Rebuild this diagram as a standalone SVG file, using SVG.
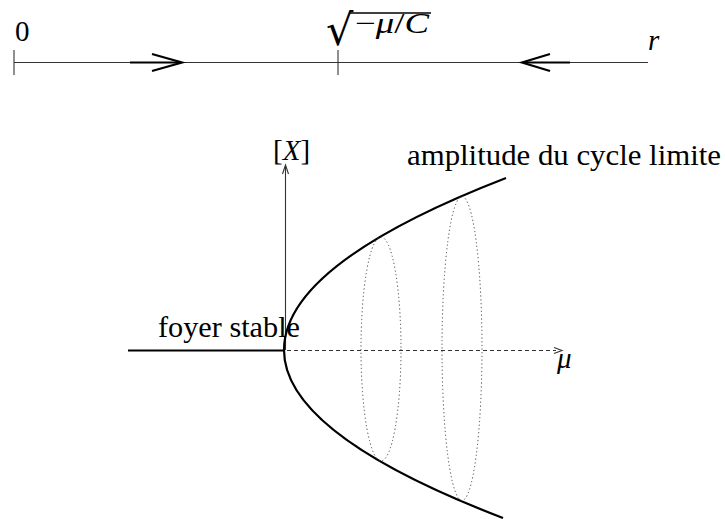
<svg xmlns="http://www.w3.org/2000/svg" width="725" height="519" viewBox="0 0 725 519" font-family="'Liberation Serif', 'Times New Roman', serif">
<style>
text{font-family:'Liberation Serif','Times New Roman',serif;font-size:29px;fill:#000}
.it{font-style:italic}
.rad{font-family:'DejaVu Serif',serif;font-size:43px}
.thin{stroke:#333;stroke-width:1.1;fill:none}
.bold{stroke:#000;stroke-width:2.2;fill:none}
.dash{stroke:#333;stroke-width:1;stroke-dasharray:4 3;fill:none}
.dot{stroke:#444;stroke-width:1;stroke-dasharray:1.2 2.6;fill:none}
</style>
<rect width="725" height="519" fill="#fff"/>
<g id="phase-line">
<line class="thin" x1="14" y1="62.5" x2="648" y2="62.5"/>
<line class="thin" x1="14" y1="50" x2="14" y2="75"/>
<line class="thin" x1="338" y1="50" x2="338" y2="75"/>
<line class="bold" x1="130" y1="62.5" x2="181" y2="62.5" stroke-width="2"/>
<polyline class="bold" points="152,54 182,62.5 152,71" stroke-width="2"/>
<line class="bold" x1="523" y1="62.5" x2="570" y2="62.5" stroke-width="2"/>
<polyline class="bold" points="550,54 522,62.5 550,71" stroke-width="2"/>
<text x="15" y="41">0</text>
<text class="rad" x="326" y="45">√</text>
<line x1="349" y1="13" x2="431" y2="13" stroke="#000" stroke-width="1.6"/>
<text x="355" y="33" font-size="27" textLength="74" lengthAdjust="spacingAndGlyphs">−<tspan class="it">μ</tspan>/<tspan class="it">C</tspan></text>
<text class="it" x="648" y="50">r</text>
</g>
<g id="connectors">
<line class="thin" x1="285.5" y1="350" x2="285.5" y2="166"/>
<polyline class="thin" points="282.5,174 285.5,165 288.5,174"/>
<line class="dash" x1="287" y1="350.5" x2="556" y2="350.5"/>
<polyline class="thin" points="554,347.5 562,350.5 554,353.5"/>
</g>
<g id="foyer-stable">
<line class="bold" x1="128" y1="350.5" x2="285" y2="350.5"/>
<text x="158" y="337" textLength="142" lengthAdjust="spacingAndGlyphs">foyer stable</text>
</g>
<g id="limit-cycle">
<path class="bold" d="M284,350 Q284,264 506,178"/>
<path class="bold" d="M284,350 Q284,434 503,518"/>
<ellipse class="dot" cx="381" cy="349" rx="20" ry="112"/>
<ellipse class="dot" cx="462" cy="348.5" rx="20" ry="152"/>
<text x="407" y="165" textLength="314" lengthAdjust="spacingAndGlyphs">amplitude du cycle limite</text>
</g>
<g id="axis-labels">
<text x="273" y="160">[<tspan class="it">X</tspan>]</text>
<text class="it" x="557" y="368">μ</text>
</g>
</svg>
